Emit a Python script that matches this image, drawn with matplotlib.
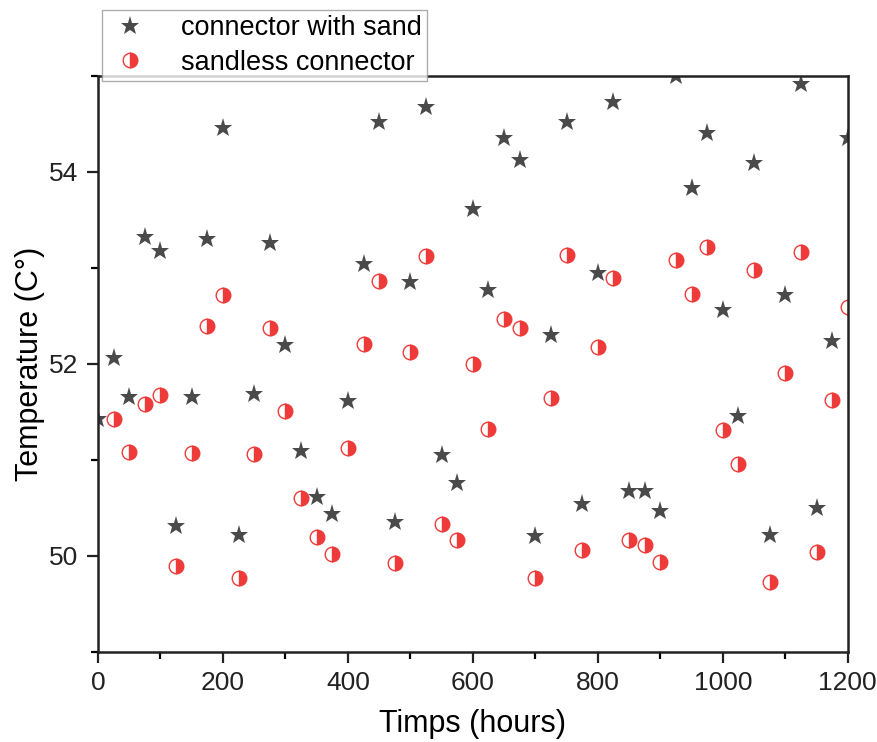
import numpy as np
import matplotlib.pyplot as plt

plt.rcParams["font.family"] = ["Liberation Sans", "DejaVu Sans"]

# ========== DATA ==========
# time axis (hours), one reading every 25 h
hours_sand = np.arange(0, 1201, 25)
hours_sandless = np.arange(25, 1201, 25)

temp_sand = [
    51.43, 52.06, 51.66, 53.32, 53.18, 50.31, 51.66, 53.30, 54.46, 50.22,
    51.69, 53.26, 52.20, 51.09, 50.61, 50.44, 51.61, 53.04, 54.52, 50.35,
    52.85, 54.68, 51.05, 50.76, 53.61, 52.77, 54.35, 54.13, 50.21, 52.30,
    54.52, 50.54, 52.95, 54.73, 50.68, 50.68, 50.47, 55.00, 53.83, 54.41,
    52.56, 51.46, 54.09, 50.22, 52.72, 54.92, 50.50, 52.24, 54.35,
]

temp_sandless = [
    51.43, 51.08, 51.58, 51.68, 49.90, 51.07, 52.40, 52.72, 49.77,
    51.06, 52.38, 51.51, 50.60, 50.20, 50.02, 51.13, 52.21, 52.86, 49.93,
    52.13, 53.13, 50.33, 50.17, 52.00, 51.32, 52.47, 52.38, 49.77, 51.65,
    53.14, 50.06, 52.18, 52.90, 50.17, 50.11, 49.94, 53.08, 52.73, 53.22,
    51.31, 50.96, 52.98, 49.73, 51.91, 53.17, 50.04, 51.63, 52.59,
]

labels = ["connector with sand", "sandless connector"]
# ==========================


def main():
    fig = plt.figure(figsize=(8.77, 7.42), dpi=100)
    ax = fig.add_axes([0.1117, 0.1213, 0.855, 0.7763])

    ax.plot(hours_sand, temp_sand, linestyle="none", marker="*",
            markersize=14, color="#4a4a4a", markeredgewidth=0,
            label=labels[0])
    ax.plot(hours_sandless, temp_sandless, linestyle="none", marker="o",
            markersize=10.5, fillstyle="right", color="#ef3a3a",
            markerfacecoloralt="white", markeredgecolor="#ef3a3a",
            markeredgewidth=1.0, label=labels[1])

    ax.set_xlim(0, 1200)
    ax.set_ylim(49, 55)
    ax.set_xticks(np.arange(0, 1201, 200))
    ax.set_xticks(np.arange(100, 1200, 200), minor=True)
    ax.set_yticks([50, 52, 54])
    ax.set_yticks([49, 51, 53, 55], minor=True)

    ax.tick_params(which="major", direction="out", length=8, width=1.6,
                   labelsize=19, colors="#222222", pad=6)
    ax.tick_params(which="minor", direction="out", length=5, width=1.6)
    for side in ax.spines.values():
        side.set_linewidth(1.8)
        side.set_color("#222222")

    ax.set_xlabel("Timps (hours)", fontsize=22, labelpad=10)
    ax.set_ylabel("Temperature (C°)", fontsize=22, labelpad=3)

    leg = fig.legend(loc="upper left", bbox_to_anchor=(0.1163, 0.9865),
                     borderaxespad=0, fontsize=19.5, numpoints=1,
                     handlelength=1.7, handletextpad=1.0, borderpad=0.2,
                     labelspacing=0.3, fancybox=False, frameon=True)
    leg.get_frame().set_edgecolor("#999999")
    leg.get_frame().set_linewidth(1.0)
    leg.set_zorder(10)

    fig.savefig("out.png", dpi=100)
    plt.close(fig)


if __name__ == "__main__":
    main()
